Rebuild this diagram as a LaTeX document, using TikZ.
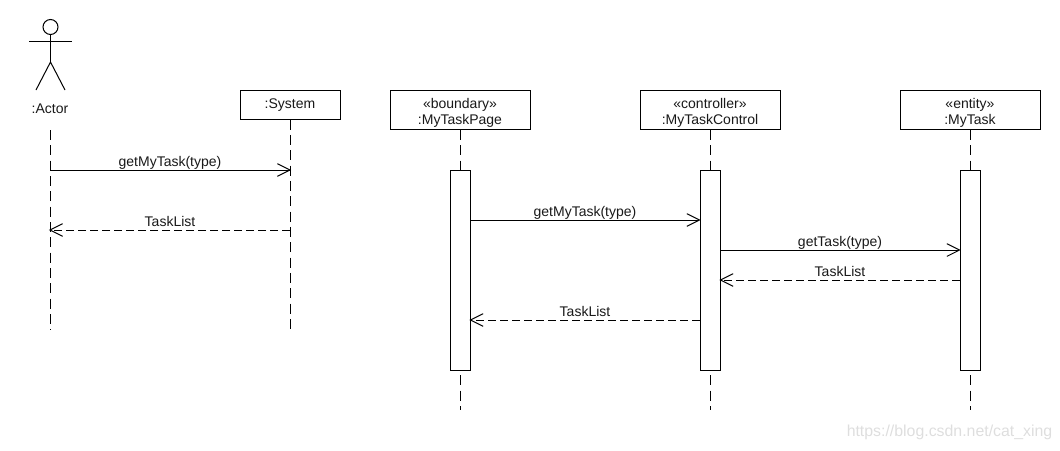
\documentclass[tikz,border=0pt]{standalone}
\usepackage{fontspec}
\setmainfont{Liberation Sans}
\usetikzlibrary{arrows.meta}
\newcommand{\headstrut}{\rule{0pt}{8.6pt}}
\newcommand{\tallstrut}{\rule{0pt}{11.6pt}}
\tikzset{
  x=0.75pt,y=-0.75pt,
  every node/.style={font=\fontsize{10.5}{12}\selectfont,text=black!90},
  head/.style={draw=black,line width=0.75pt,fill=white,inner sep=0pt,align=center,minimum height=#1*0.75pt},
  headw/.style={minimum width=#1*0.75pt},
  life/.style={draw=black,line width=0.75pt,dash pattern=on 7.5pt off 4pt},
  act/.style={draw=black,line width=0.75pt,fill=white,inner sep=0pt,minimum width=15pt,minimum height=150pt},
  msg/.style={draw=black,line width=0.75pt,shorten >=-0.8pt,-{Straight Barb[length=9.5pt,width=9.5pt,line width=0.7pt]}},
  ret/.style={msg,dash pattern=on 6pt off 3pt},
  lab/.style={midway,inner sep=0pt,anchor=base,yshift=3pt},
  stick/.style={draw=black,line width=0.75pt}
}
\begin{document}
\begin{tikzpicture}
\useasboundingbox (0,0) rectangle (1060,450);
% actor
\node[circle,draw=black,line width=0.75pt,inner sep=0pt,minimum size=11.25pt] (acthead) at (50.5,27) {};
\coordinate (armL) at (29,41.5);
\coordinate (armR) at (72,41.5);
\coordinate (hip) at (50.5,62);
\coordinate (legL) at (36,90);
\coordinate (legR) at (65,90);
\draw[stick] (acthead.south) -- (hip);
\draw[stick] (armL) -- (armR);
\draw[stick] (legL) -- (hip) -- (legR);
\node[inner sep=0pt] (actor) at (50,108.5) {:Actor};
% heads
\node[head=29,headw=100] (system) at (290,104.5) {\headstrut:System};
\node[head=39,headw=140] (page) at (460,110) {\tallstrut«boundary»\\:MyTaskPage};
\node[head=39,headw=140] (control) at (710,110) {\tallstrut«controller»\\:MyTaskControl};
\node[head=39,headw=140] (task) at (970,110) {\tallstrut«entity»\\:MyTask};
% lifeline ends
\coordinate (actorTop) at (50,130);
\coordinate (actorEnd) at (50,330);
\coordinate (systemEnd) at (290,330);
\coordinate (pageEnd) at (460,410);
\coordinate (controlEnd) at (710,410);
\coordinate (taskEnd) at (970,410);
\draw[life] (actorTop) -- (actorEnd);
\draw[life] (system.south) -- (systemEnd);
\draw[life] (page.south) -- (pageEnd);
\draw[life] (control.south) -- (controlEnd);
\draw[life] (task.south) -- (taskEnd);
% activations
\node[act] (pageact) at (460,270) {};
\node[act] (controlact) at (710,270) {};
\node[act] (taskact) at (970,270) {};
% message levels
\coordinate (y1) at (0,170);
\coordinate (y2) at (0,230);
\coordinate (y3) at (0,220);
\coordinate (y4) at (0,250);
\coordinate (y5) at (0,280);
\coordinate (y6) at (0,320);
% messages
\draw[msg] (actorTop |- y1) -- node[lab] (m1) {getMyTask(type)} (system.south |- y1);
\draw[ret] (system.south |- y2) -- node[lab] (m2) {TaskList} (actorTop |- y2);
\draw[msg] (pageact.east |- y3) -- node[lab] (m3) {getMyTask(type)} (controlact.west |- y3);
\draw[msg] (controlact.east |- y4) -- node[lab] (m4) {getTask(type)} (taskact.west |- y4);
\draw[ret] (taskact.west |- y5) -- node[lab] (m5) {TaskList} (controlact.east |- y5);
\draw[ret] (controlact.west |- y6) -- node[lab] (m6) {TaskList} (pageact.east |- y6);
% watermark
\node[inner sep=0pt,text=black!13,font=\fontsize{11.9}{13}\selectfont] (mark) at (949.5,432) {https://blog.csdn.net/cat\_xing};
\end{tikzpicture}
\end{document}
